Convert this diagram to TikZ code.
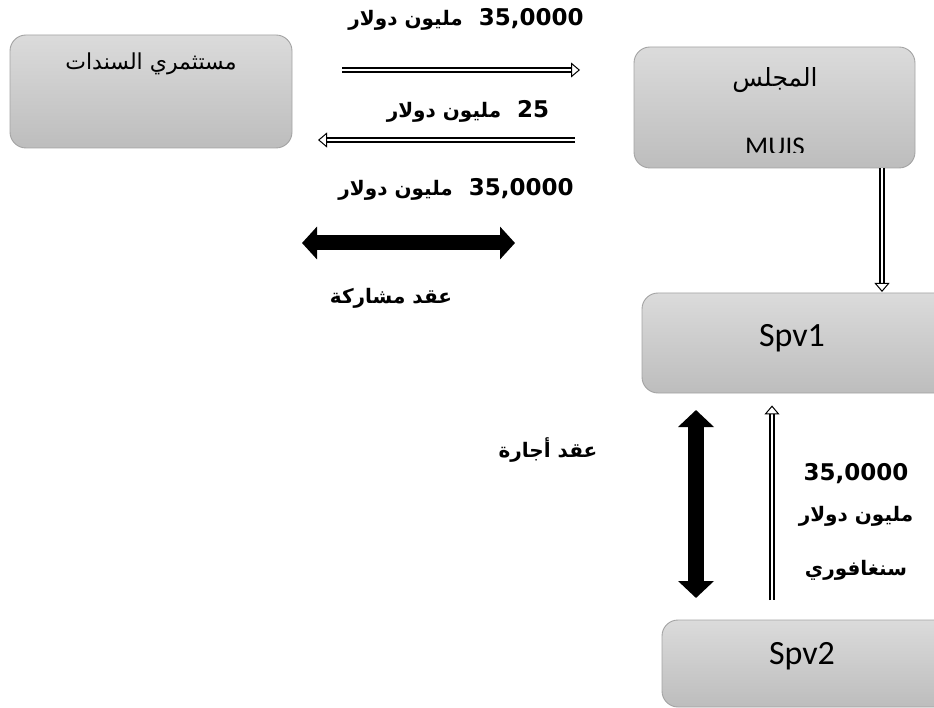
\documentclass[tikz,border=0pt]{standalone}
\usepackage{fontspec}
\usetikzlibrary{arrows.meta}
\TeXXeTstate=1
\setmainfont{Carlito}
\newfontfamily\arabicfont[Script=Arabic]{DejaVu Sans}
\newfontfamily\numfont{DejaVu Sans}
\definecolor{boxtop}{HTML}{DBDBDB}
\definecolor{boxbot}{HTML}{BDBDBD}
\definecolor{boxline}{HTML}{A3A3A3}
\newcommand{\ar}[1]{{\arabicfont\beginR #1\endR}}
\newcommand{\arb}[1]{{\arabicfont\bfseries\fontsize{20}{22}\selectfont\beginR #1\endR}}
\newcommand{\nm}[1]{{\numfont\bfseries\fontsize{23}{25}\selectfont #1}}
\begin{document}
\begin{tikzpicture}[x=1pt,y=-1pt,
  panel/.style={draw=boxline, line width=0.9pt, rounded corners=16pt,
    top color=boxtop, bottom color=boxbot, inner sep=0pt},
  lbl/.style={inner sep=0pt},
  spvtxt/.style={inner sep=0pt, anchor=base, font=\fontsize{34}{36}\selectfont},
  hollow/.style={double=white, double distance=2.8pt, line width=1.3pt,
    -{Triangle[open, length=9pt, width=15pt, line width=1pt, fill=white]}},
  bigarrow/.style={line width=15pt, {Triangle[length=15pt,width=32pt]}-{Triangle[length=15pt,width=32pt]}}
]
\useasboundingbox (0,0) rectangle (934,708);
\clip (0,0) rectangle (934,708);

% boxes
\node[panel, minimum width=282pt, minimum height=113pt] (inv) at (151,91.5) {};
\node[panel, minimum width=281pt, minimum height=121pt] (muis) at (774.5,107.5) {};
\node[panel, minimum width=308pt, minimum height=100pt] (spv1) at (796,343) {};
\node[panel, minimum width=288pt, minimum height=87pt] (spv2) at (806,663.5) {};

% box texts
\node[lbl, font=\fontsize{22}{24}\selectfont] (invt) at (151,64) {\ar{مستثمري السندات}};
\node[lbl, font=\fontsize{25}{27}\selectfont] (muist) at (775,80) {\ar{المجلس}};
\begin{scope}
  \clip (634,47) rectangle (915,153);
  \node[inner sep=0pt, anchor=base, font=\fontsize{27}{29}\selectfont] (muisn) at (775,156) {MUIS};
\end{scope}
\node[spvtxt] (spv1t) at (792,347) {Spv1};
\node[spvtxt] (spv2t) at (802,664) {Spv2};

% top labels
\node[lbl] (l1) at (466,19) {\arb{مليون دولار}\hspace{16pt}\nm{35,0000}};
\node[lbl] (l2) at (468,111) {\arb{مليون دولار}\hspace{16pt}\nm{25}};
\node[lbl] (l3) at (456,189) {\arb{مليون دولار}\hspace{16pt}\nm{35,0000}};
\node[lbl] (l4) at (391,298) {\arb{عقد مشاركة}};
\node[lbl] (l5) at (548,450) {\arb{عقد أجارة}};
\node[lbl] (l6) at (856,474) {\nm{35,0000}};
\node[lbl] (l7) at (856,516) {\arb{مليون دولار}};
\node[lbl] (l8) at (856,570) {\arb{سنغافوري}};

% connectors
\coordinate (a1s) at (342,70);
\coordinate (a1e) at (580,70);
\coordinate (a2s) at (575,140);
\coordinate (a2e) at (318,140);
\coordinate (b1s) at (302,243);
\coordinate (b1e) at (515,243);
\coordinate (b2s) at (696,410);
\coordinate (b2e) at (696,598);
\coordinate (c1e) at (882,292);
\coordinate (c2s) at (772,600);
\draw[hollow] (a1s) -- (a1e);
\draw[hollow] (a2s) -- (a2e);
\draw[hollow] (muis.south -| c1e) -- (c1e);
\draw[hollow] (c2s) -- ([yshift=-12pt]spv1.south -| c2s);
\draw[bigarrow] (b1s) -- (b1e);
\draw[bigarrow, line width=16pt, {Triangle[length=17pt,width=35pt]}-{Triangle[length=17pt,width=35pt]}] (b2s) -- (b2e);
\end{tikzpicture}
\end{document}
